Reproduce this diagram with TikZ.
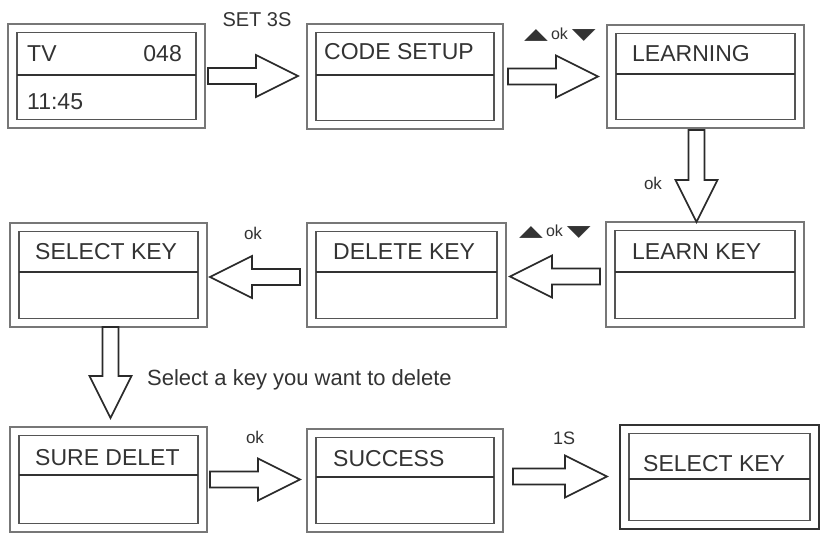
\documentclass[tikz,border=0pt]{standalone}
\usepackage{fontspec}
\usepackage{graphicx}
\setmainfont{Liberation Sans}
\newfontfamily\dejavu{DejaVu Sans}
\usetikzlibrary{calc}
\definecolor{txt}{HTML}{333333}
\definecolor{outerc}{HTML}{777777}
\definecolor{innerc}{HTML}{555555}
\definecolor{divc}{HTML}{333333}
\definecolor{arrc}{HTML}{2A2A2A}
\newcommand{\TriText}[1]{{\dejavu\fontsize{31}{31}\selectfont\scalebox{1}[0.5]{#1}}}
% screen box: name, left x, top y, width, height, divider offset, outer colour
\newcommand{\Screen}[7]{%
  \node[outerbox, draw=#7, minimum width=#4, minimum height=#5, anchor=north west] (#1) at (#2,#3) {};
  \draw[innerbox] ([xshift=9pt,yshift=-8.5pt]#1.north west) rectangle ([xshift=-9pt,yshift=8.5pt]#1.south east);
  \draw[divline] ([xshift=9pt,yshift=-#6pt]#1.north west) -- ([xshift=-9pt,yshift=-#6pt]#1.north east);
}
% block arrow from start #1 to tip #2
\newcommand{\BlkArrow}[2]{%
  \path ($(#2)!42pt!(#1)$) coordinate (bh);
  \draw[blkarrow] ($(#1)!8pt!90:(#2)$) -- ($(bh)!8pt!90:(#2)$) -- ($(bh)!21pt!90:(#2)$)
    -- (#2) -- ($(bh)!21pt!-90:(#2)$) -- ($(bh)!8pt!-90:(#2)$) -- ($(#1)!8pt!-90:(#2)$) -- cycle;
}
\begin{document}
\begin{tikzpicture}[x=1pt,y=-1pt,
  outerbox/.style={rectangle, line width=1.1pt, inner sep=0pt, outer sep=0pt, fill=white},
  innerbox/.style={draw=innerc, line width=1.1pt},
  divline/.style={draw=divc, line width=1.4pt},
  blkarrow/.style={draw=arrc, line width=1.6pt, fill=white, line join=miter},
  lbl/.style={font=\fontsize{23}{26}\selectfont, text=txt, inner sep=0pt, anchor=base west},
  small/.style={font=\fontsize{17}{20}\selectfont, text=txt, inner sep=0pt},
]
\useasboundingbox (0,0) rectangle (824,540);
\fill[white] (0,0) rectangle (824,540);

% row 1
\Screen{b1}{8}{24}{197}{104}{51}{outerc}
\Screen{b2}{307}{24}{196}{105}{51}{outerc}
\Screen{b3}{607}{25}{197}{103}{49}{outerc}
% row 2
\Screen{s1}{10}{223}{197}{104}{49}{outerc}
\Screen{dk}{307}{223}{199}{104}{49}{outerc}
\Screen{lk}{606}{222}{198}{105}{50}{outerc}
% row 3
\Screen{sd}{10}{427}{197}{105}{48}{outerc}
\Screen{su}{307}{429}{196}{103}{48}{outerc}
\Screen{fin}{620}{425}{199}{104}{54}{divc}

% texts in boxes
\node[lbl] (tv) at (27,62) {TV};
\node[lbl, anchor=base east] (ch) at (182,62) {048};
\node[lbl] (tm) at (27,110) {11:45};
\node[lbl] (t2) at (324,60) {CODE SETUP};
\node[lbl] (t3) at (632,62) {LEARNING};
\node[lbl] (t4) at (35,259) {SELECT KEY};
\node[lbl] (t5) at (333,259) {DELETE KEY};
\node[lbl] (t6) at (632,259) {LEARN KEY};
\node[lbl] (t7) at (35,465) {SURE DELET};
\node[lbl] (t8) at (333,466) {SUCCESS};
\node[lbl] (t9) at (643,471) {SELECT KEY};

% arrows
\coordinate (a1s) at ([xshift=3pt]b1.east);
\coordinate (a1t) at ([xshift=-9pt]a1s -| b2.west);
\BlkArrow{a1s}{a1t}
\coordinate (a2s) at ([xshift=5pt]b2.east);
\coordinate (a2t) at ([xshift=-9pt]a2s -| b3.west);
\BlkArrow{a2s}{a2t}
\coordinate (a3s) at ([xshift=-9pt,yshift=-2pt]b3.south);
\coordinate (a3t) at (a3s |- lk.north);
\BlkArrow{a3s}{a3t}
\coordinate (a4s) at ([xshift=-6pt,yshift=-2pt]lk.west);
\coordinate (a4t) at ([xshift=4pt]a4s -| dk.east);
\BlkArrow{a4s}{a4t}
\coordinate (a5s) at ([xshift=-7pt,yshift=-2pt]dk.west);
\coordinate (a5t) at ([xshift=3pt]a5s -| s1.east);
\BlkArrow{a5s}{a5t}
\coordinate (a6s) at ([xshift=2pt]s1.south);
\coordinate (a6t) at ([yshift=9pt]a6s |- sd.north);
\BlkArrow{a6s}{a6t}
\coordinate (a7s) at ([xshift=3pt]sd.east);
\coordinate (a7t) at ([xshift=-7pt]a7s -| su.west);
\BlkArrow{a7s}{a7t}
\coordinate (a8s) at ([xshift=10pt,yshift=4pt]su.east);
\coordinate (a8t) at ([xshift=-13pt]a8s -| fin.west);
\BlkArrow{a8s}{a8t}

% arrow labels
\node[font=\fontsize{20}{22}\selectfont, text=txt, inner sep=0pt] (l1) at (257,20) {SET 3S};
\node[text=txt, inner sep=0pt] (l2) at (560,35) {\TriText{▲}\hspace{3pt}{\fontsize{16}{18}\selectfont ok}\hspace{4pt}\TriText{▼}};
\node[small] (l3) at (653,183) {ok};
\node[text=txt, inner sep=0pt] (l4) at (555,232) {\TriText{▲}\hspace{3pt}{\fontsize{16}{18}\selectfont ok}\hspace{4pt}\TriText{▼}};
\node[small] (l5) at (253,233) {ok};
\node[font=\fontsize{22}{26}\selectfont, text=txt, inner sep=0pt, anchor=base west] (l6) at (147,385) {Select a key you want to delete};
\node[small] (l7) at (255,437) {ok};
\node[font=\fontsize{18}{20}\selectfont, text=txt, inner sep=0pt] (l8) at (564,438) {1S};
\end{tikzpicture}
\end{document}
